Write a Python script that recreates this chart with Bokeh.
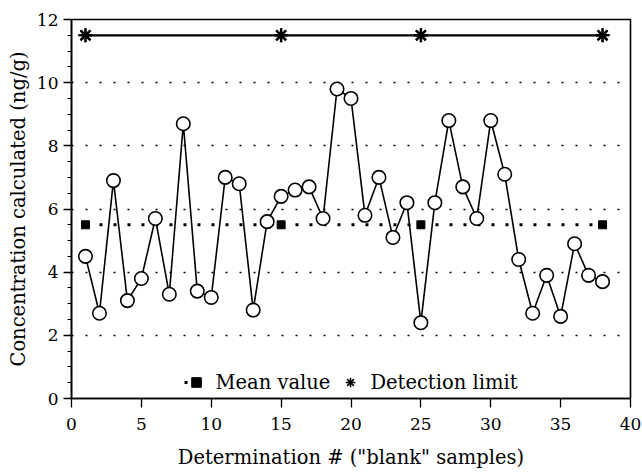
from bokeh.plotting import figure
from bokeh.models import Range1d, SingleIntervalTicker, Legend, LegendItem
from bokeh.embed import file_html
from bokeh.resources import INLINE

# ---- data ----
determination = list(range(1, 39))
concentration = [4.5, 2.7, 6.9, 3.1, 3.8, 5.7, 3.3, 8.7, 3.4, 3.2,
                 7.0, 6.8, 2.8, 5.6, 6.4, 6.6, 6.7, 5.7, 9.8, 9.5,
                 5.8, 7.0, 5.1, 6.2, 2.4, 6.2, 8.8, 6.7, 5.7, 8.8,
                 7.1, 4.4, 2.7, 3.9, 2.6, 4.9, 3.9, 3.7]
mean_x = [1, 15, 25, 38]
mean_y = [5.5, 5.5, 5.5, 5.5]
detect_x = [1, 15, 25, 38]
detect_y = [11.5, 11.5, 11.5, 11.5]
x_label = 'Determination # ("blank" samples)'
y_label = "Concentration calculated (ng/g)"

FONT = "DejaVu Serif"

p = figure(width=642, height=474, output_backend="svg", toolbar_location=None,
           x_range=Range1d(0, 40), y_range=Range1d(0, 12),
           min_border_left=71, min_border_right=12, min_border_top=19,
           min_border_bottom=76, background_fill_color="white",
           border_fill_color="white")

p.outline_line_color = "black"
p.outline_line_width = 1.6

# axes
p.xaxis.ticker = SingleIntervalTicker(interval=5, num_minor_ticks=0)
p.yaxis.ticker = SingleIntervalTicker(interval=2, num_minor_ticks=4)
for ax in (p.xaxis, p.yaxis):
    ax.axis_line_color = "black"
    ax.axis_line_width = 1.6
    ax.major_tick_line_color = "black"
    ax.major_tick_line_width = 1.3
    ax.minor_tick_line_color = "black"
    ax.minor_tick_line_width = 1.0
    ax.major_tick_in = 0
    ax.minor_tick_in = 0
    ax.major_label_text_font = FONT
    ax.major_label_text_font_size = "17px"
    ax.major_label_text_color = "black"
    ax.axis_label_text_font = FONT
    ax.axis_label_text_font_size = "19.5px"
    ax.axis_label_text_font_style = "normal"
    ax.axis_label_text_color = "black"

p.xaxis.major_tick_out = 9
p.yaxis.major_tick_out = 8
p.yaxis.minor_tick_out = 4
p.xaxis.minor_tick_out = 0
p.yaxis.major_label_standoff = 5
p.xaxis.major_label_standoff = 10
p.xaxis.axis_label = x_label
p.yaxis.axis_label = y_label
p.xaxis.axis_label_standoff = 13
p.yaxis.axis_label_standoff = 4

# grid
p.xgrid.visible = False
p.ygrid.ticker = SingleIntervalTicker(interval=2, num_minor_ticks=0)
p.ygrid.grid_line_color = "black"
p.ygrid.grid_line_width = 1.4
p.ygrid.grid_line_dash = "2 12"

# mean value
mean_line = p.line(mean_x, mean_y, line_color="black", line_width=3,
                   line_dash="3 11")
mean_sq = p.scatter(mean_x, mean_y, marker="square", size=8,
                    fill_color="black", line_color="black")

# detection limit
det_line = p.line(detect_x, detect_y, line_color="black", line_width=2.2)
det_star = p.scatter(detect_x, detect_y, marker="asterisk", size=14,
                     line_color="black", line_width=2.5)
det_star_thin = p.scatter(detect_x, detect_y, marker="asterisk", size=14,
                          line_color="black", line_width=1.5)

# data series
p.line(determination, concentration, line_color="black", line_width=1.6)
p.scatter(determination, concentration, marker="circle", size=13.5,
          fill_color="white", line_color="black", line_width=1.6)

legend = Legend(items=[
    LegendItem(label="Mean value", renderers=[mean_line, mean_sq]),
    LegendItem(label="Detection limit", renderers=[det_star_thin]),
], location="bottom_center", orientation="horizontal")
legend.background_fill_alpha = 0
legend.border_line_alpha = 0
legend.label_text_font = FONT
legend.label_text_font_size = "19.5px"
legend.label_text_color = "black"
legend.glyph_width = 24
legend.glyph_height = 28
legend.label_standoff = 8
legend.spacing = 8
legend.padding = 0
legend.margin = 2
p.add_layout(legend)

open("out.html", "w").write(file_html(p, INLINE))
